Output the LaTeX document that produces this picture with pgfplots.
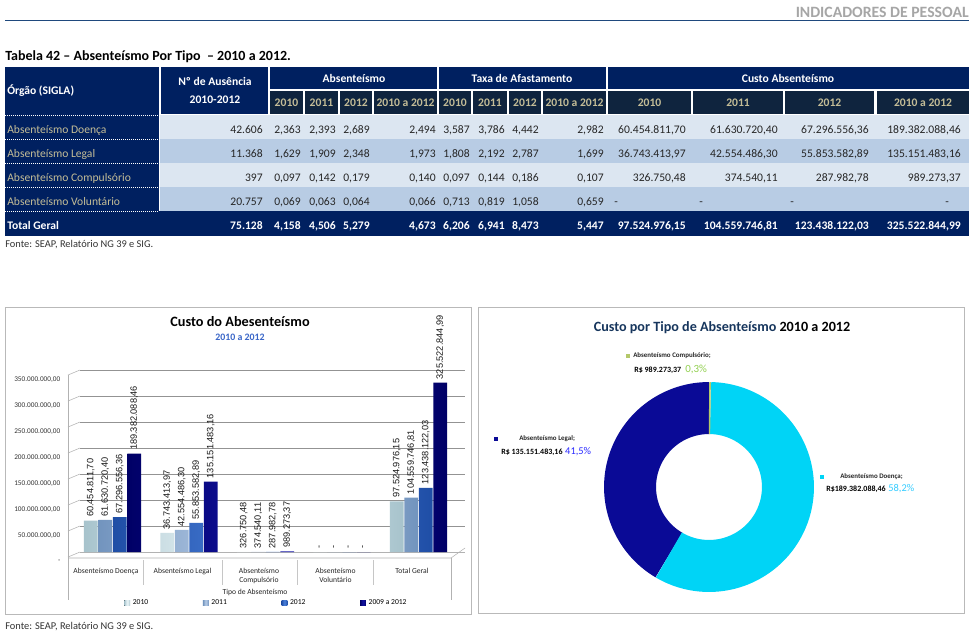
\documentclass[border=0pt]{standalone}
\usepackage{fontspec}
\setmainfont{Carlito}
\newfontfamily\arialfont{Liberation Sans}
\usepackage{graphicx}
\usepackage{pgfplots}
\pgfplotsset{compat=1.18}
\usepgfplotslibrary{polar}
\usepackage{pgfplotstable}

\definecolor{hdnavy}{HTML}{002060}
\definecolor{subhd}{HTML}{0F243E}
\definecolor{tanT}{HTML}{C4BD97}
\definecolor{rowA}{HTML}{DCE6F1}
\definecolor{rowB}{HTML}{B8CCE4}
\definecolor{e10}{HTML}{A7C3CC}\definecolor{m10}{HTML}{F2FBFD}
\definecolor{e11}{HTML}{7294BE}\definecolor{m11}{HTML}{BCD0EA}
\definecolor{e12}{HTML}{1F4EA6}\definecolor{m12}{HTML}{4C82DC}
\definecolor{e09}{HTML}{000066}\definecolor{m09}{HTML}{1414A8}
\definecolor{dDoenca}{HTML}{00D4F6}
\definecolor{dLegal}{HTML}{0A0A96}
\definecolor{dComp}{HTML}{B4C86A}
\definecolor{ttlnavy}{HTML}{17365D}
\definecolor{subblue}{HTML}{3A66C8}
\definecolor{hdgray}{HTML}{A6A6A6}
\definecolor{hdline}{HTML}{1F497D}
\definecolor{pctG}{HTML}{92D050}
\definecolor{pctB}{HTML}{2A2AFF}
\definecolor{pctC}{HTML}{33CCFF}

% Custo do absenteismo (milhoes de R$)
\pgfplotstableread{
cat v2010 l2010 v2011 l2011 v2012 l2012 vtot ltot
0 60.45481170 60.454.811,70 61.63072040 61.630.720,40 67.29655636 67.296.556,36 189.38208846 189.382.088,46
1 36.74341397 36.743.413,97 42.55448630 42.554.486,30 55.85358289 55.853.582,89 135.15148316 135.151.483,16
2 0.32675048 326.750,48 0.37454011 374.540,11 0.28798278 287.982,78 0.98927337 989.273,37
3 0 - 0 - 0 - 0 -
4 97.52497615 97.524.976,15 104.55974681 104.559.746,81 123.43812203 123.438.122,03 325.52284499 325.522.844,99
}\bardata

% Donut values (milhoes de R$, 2010 a 2012)
\pgfmathsetmacro\vD{189.38208846}
\pgfmathsetmacro\vL{135.15148316}
\pgfmathsetmacro\vC{0.98927337}
\pgfmathsetmacro\vT{\vD+\vL+\vC}
\pgfmathsetmacro\fC{\vC/\vT}
\pgfmathsetmacro\fD{\vD/\vT}
\pgfmathsetmacro\aC{90-360*\fC}
\pgfmathsetmacro\aD{\aC-360*\fD}

\newcommand\tf{\fontsize{8.7}{10}\selectfont}
\newcommand\R[3]{\node[anchor=base east,inner sep=0pt] at (#1,#2) {#3};}

\begin{document}
\begin{tikzpicture}[x=0.75pt,y=-0.75pt]
\useasboundingbox (0,0) rectangle (974,632);
\fill[white] (0,0) rectangle (974,632);

% page header
\node[anchor=base east,inner sep=0pt,text=hdgray,font=\fontsize{11.8}{13}\selectfont\bfseries] at (969,17.5) {INDICADORES DE PESSOAL};
\draw[hdline,line width=1.1pt] (5,20.5) -- (969,20.5);

% table title
\node[anchor=base west,inner sep=0pt,font=\fontsize{10.5}{12}\selectfont\bfseries] at (5,60.5) {Tabela 42 – Absenteísmo Por Tipo \ – 2010 a 2012.};

% table header backgrounds
\fill[hdnavy] (5,67) rectangle (159,210.5);
\fill[hdnavy] (161,67) rectangle (268,114);
\fill[hdnavy] (270,67) rectangle (437,89);
\fill[hdnavy] (439,67) rectangle (606,89);
\fill[hdnavy] (608,67) rectangle (969,89);
\foreach \a/\b in {270/303,305/338,340/372,374/437,439/471,473/507,509/541,543/606,608/691,693/783,785/874,877/969}
  {\fill[subhd] (\a,91) rectangle (\b,114);}
% body rows
\fill[rowA] (160,115) rectangle (969,138.5);
\fill[rowB] (160,138.5) rectangle (969,162.5);
\fill[rowA] (160,162.5) rectangle (969,186.5);
\fill[rowB] (160,186.5) rectangle (969,210.5);
\fill[hdnavy] (5,211) rectangle (969,236);
\foreach \y in {115,139,163,187,211}
  {\draw[white,line width=0.6pt,dash pattern=on 0.75pt off 0.75pt] (5,\y) -- (159,\y);}

% header text
\begin{scope}[font=\tf\bfseries,text=white,inner sep=0pt]
\node[anchor=base west] at (7,94.5) {Órgão (SIGLA)};
\node[anchor=base] at (215,85.5) {Nº de Ausência};
\node[anchor=base] at (215,103.5) {2010-2012};
\node[anchor=base] at (354,82.5) {Absenteísmo};
\node[anchor=base] at (522,82.5) {Taxa de Afastamento};
\node[anchor=base] at (788,82.5) {Custo Absenteísmo};
\end{scope}
\begin{scope}[font=\tf\bfseries,text=tanT,inner sep=0pt]
\foreach \x/\t in {286.5/2010,321.5/2011,356/2012,405.5/2010 a 2012,455/2010,490/2011,525/2012,574.5/2010 a 2012,649.5/2010,738/2011,829.5/2012,923/2010 a 2012}
  {\node[anchor=base] at (\x,106.5) {\t};}
\end{scope}

% row labels
\begin{scope}[font=\tf,text=tanT,inner sep=0pt]
\node[anchor=base west] at (7,133) {Absenteísmo Doença};
\node[anchor=base west] at (7,157) {Absenteísmo Legal};
\node[anchor=base west] at (7,181) {Absenteísmo Compulsório};
\node[anchor=base west] at (7,205) {Absenteísmo Voluntário};
\end{scope}
\node[anchor=base west,inner sep=0pt,font=\tf\bfseries,text=white] at (7,229) {Total Geral};

% body numbers
\begin{scope}[font=\tf,text=black!85]
\foreach \x/\t in {263/42.606,301/{2,363},336/{2,393},370/{2,689},436/{2,494},470/{3,587},505/{3,786},539/{4,442},604/{2,982},686/{60.454.811,70},778/{61.630.720,40},869/{67.296.556,36},961/{189.382.088,46}}
  {\R{\x}{133}{\t}}
\foreach \x/\t in {263/11.368,301/{1,629},336/{1,909},370/{2,348},436/{1,973},470/{1,808},505/{2,192},539/{2,787},604/{1,699},686/{36.743.413,97},778/{42.554.486,30},869/{55.853.582,89},961/{135.151.483,16}}
  {\R{\x}{157}{\t}}
\foreach \x/\t in {263/397,301/{0,097},336/{0,142},370/{0,179},436/{0,140},470/{0,097},505/{0,144},539/{0,186},604/{0,107},686/{326.750,48},778/{374.540,11},869/{287.982,78},961/{989.273,37}}
  {\R{\x}{181}{\t}}
\foreach \x/\t in {263/20.757,301/{0,069},336/{0,063},370/{0,064},436/{0,066},470/{0,713},505/{0,819},539/{1,058},604/{0,659}}
  {\R{\x}{205}{\t}}
\foreach \x in {614,699,790,945}
  {\node[anchor=base west,inner sep=0pt] at (\x,205) {-};}
\end{scope}
\begin{scope}[font=\tf\bfseries,text=white]
\foreach \x/\t in {263/75.128,301/{4,158},336/{4,506},370/{5,279},436/{4,673},470/{6,206},505/{6,941},539/{8,473},604/{5,447},686/{97.524.976,15},778/{104.559.746,81},869/{123.438.122,03},961/{325.522.844,99}}
  {\R{\x}{229}{\t}}
\end{scope}

\node[anchor=base west,inner sep=0pt,font=\fontsize{7.8}{9}\selectfont,text=black!80] at (5,247) {Fonte: SEAP, Relatório NG 39 e SIG.};
\node[anchor=base west,inner sep=0pt,font=\fontsize{7.8}{9}\selectfont,text=black!80] at (5,629) {Fonte: SEAP, Relatório NG 39 e SIG.};

% ---------- left chart ----------
\draw[gray!55] (5,307) rectangle (471,614);
\node[anchor=base,inner sep=0pt,font=\fontsize{10.7}{12}\selectfont\bfseries] at (240,326) {Custo do Abesenteísmo};
\node[anchor=base,inner sep=0pt,font=\fontsize{7.4}{9}\selectfont\bfseries,text=subblue] at (240,340) {2010 a 2012};
% floor / label-area frame
\draw[gray!60] (68,375) -- (68,600);
\draw[gray!60] (68,558) -- (451,558) -- (465,548);
\draw[gray!60] (451,558) -- (451,600);
\foreach \x in {143,222,297,373} {\draw[gray!45] (\x,560) -- (\x,585);}

\begin{axis}[
  at={(60pt,-414pt)}, anchor=south west, scale only axis,
  width=288.75pt, height=136.5pt,
  xmin=-0.425, xmax=4.608, ymin=0, ymax=350,
  axis x line*=bottom, axis y line*=left,
  x axis line style={gray!60}, y axis line style={draw=none},
  xtick={0,1,2,3,4},
  xticklabels={Absenteísmo Doença,Absenteísmo Legal,{Absenteísmo\\Compulsório},{Absenteísmo\\Voluntário},Total Geral},
  xticklabel style={font=\fontsize{5.7}{7}\selectfont, align=center, anchor=north, yshift=-8.5pt, xshift=-4.9pt, text=black!85},
  xtick style={draw=none},
  ytick={0,50,...,350},
  yticklabels={{-},{50.000.000,00},{100.000.000,00},{150.000.000,00},{200.000.000,00},{250.000.000,00},{300.000.000,00},{350.000.000,00}},
  yticklabel style={font=\fontsize{5.45}{6}\selectfont, xshift=-11.25pt, yshift=-7pt, text=black!80},
  ytick style={draw=none},
  ymajorgrids, grid style={gray!85},
  clip=false,
  xlabel={Tipo de Absenteísmo},
  xlabel style={at={(axis description cs:0.4545,-0.225)}, anchor=center, font=\fontsize{5.7}{7}\selectfont, text=black!85},
  nodes near coords={\rotatebox{90}{\pgfplotspointmeta}},
  point meta=explicit symbolic,
  every node near coord/.append style={anchor=south, font=\arialfont\fontsize{6.9}{8}\selectfont, inner sep=2.5pt, text=black!90},
  legend columns=4,
  legend style={draw=none, fill=none, at={(axis description cs:0.104,-0.28)}, anchor=west, font=\fontsize{5.7}{7}\selectfont, /tikz/every even column/.append style={column sep=39pt}},
  legend image code/.code={\fill[#1] (0pt,-2.2pt) rectangle (4.4pt,2.2pt);},
]
\pgfplotsinvokeforeach{0,50,...,350}{\draw[gray!60] (axis cs:-0.425,#1) -- ++(-9pt,-3.75pt);}
\addplot[ybar, bar width=0.18, bar shift=-16.35pt, draw=none, left color=e10, right color=e10, middle color=m10,
  every node near coord/.append style={xshift=-16.35pt}] table[x=cat,y=v2010,meta=l2010]{\bardata};
\addplot[ybar, bar width=0.18, bar shift=-5.45pt, draw=none, left color=e11, right color=e11, middle color=m11,
  every node near coord/.append style={xshift=-5.45pt}] table[x=cat,y=v2011,meta=l2011]{\bardata};
\addplot[ybar, bar width=0.18, bar shift=5.45pt, draw=none, left color=e12, right color=e12, middle color=m12,
  every node near coord/.append style={xshift=5.45pt}] table[x=cat,y=v2012,meta=l2012]{\bardata};
\addplot[ybar, bar width=0.18, bar shift=16.35pt, draw=none, left color=e09, right color=e09, middle color=m09,
  every node near coord/.append style={xshift=16.35pt}] table[x=cat,y=vtot,meta=ltot]{\bardata};
\legend{2010,2011,2012,2009 a 2012}
\end{axis}

% ---------- right chart ----------
\draw[gray!55] (478,307) rectangle (964,613);
\node[anchor=base,inner sep=0pt,font=\fontsize{10.6}{12}\selectfont\bfseries] at (722,331) {\textcolor{ttlnavy}{Custo por Tipo de Absenteísmo} 2010 a 2012};

\begin{polaraxis}[
  at={(531.75pt,-365.25pt)}, anchor=center, scale only axis,
  width=157.5pt, height=157.5pt, ymin=0, ymax=1, hide axis, clip=false]
\addplot[no markers, line width=39pt, draw=dLegal, domain=-270:\aD, samples=150] {0.752};
\addplot[no markers, line width=39pt, draw=dDoenca, domain=\aD:\aC, samples=200] {0.752};
\addplot[no markers, line width=39pt, draw=dComp, domain=\aC:90, samples=3] {0.752};
\end{polaraxis}

% donut labels
\fill[dComp] (626,354) rectangle (630,358);
\node[anchor=west,inner sep=0pt,font=\fontsize{5.2}{6}\selectfont\bfseries,text=black!85] at (633,356) {Absenteísmo Compulsório;};
\node[anchor=base west,inner sep=0pt,font=\fontsize{6}{7}\selectfont\bfseries] at (634,372) {R\$ 989.273,37\hspace{3pt}{\fontsize{8.2}{9}\selectfont\mdseries\color{pctG}0,3\%}};
\fill[dLegal] (494,437) rectangle (498,441);
\node[anchor=west,inner sep=0pt,font=\fontsize{5.2}{6}\selectfont\bfseries,text=black!85] at (519,439) {Absenteísmo Legal;};
\node[anchor=base west,inner sep=0pt,font=\fontsize{6}{7}\selectfont\bfseries] at (501,454) {R\$ 135.151.483,16\hspace{2pt}{\fontsize{7.8}{9}\selectfont\mdseries\color{pctB}41,5\%}};
\fill[dDoenca] (820,475) rectangle (824,479);
\node[anchor=west,inner sep=0pt,font=\fontsize{5.2}{6}\selectfont\bfseries,text=black!85] at (840,477) {Absenteísmo Doença;};
\node[anchor=base west,inner sep=0pt,font=\fontsize{6}{7}\selectfont\bfseries] at (826,491) {R\$189.382.088,46\hspace{2pt}{\fontsize{7.8}{9}\selectfont\mdseries\color{pctC}58,2\%}};
\end{tikzpicture}
\end{document}
